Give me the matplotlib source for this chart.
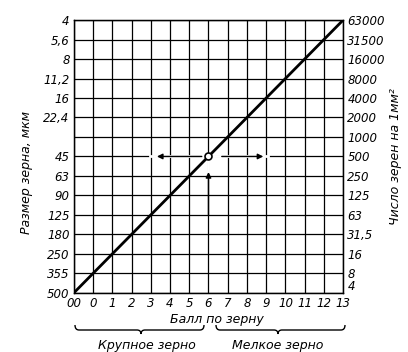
import matplotlib
matplotlib.use("Agg")
import matplotlib.pyplot as plt
from matplotlib.path import Path
from matplotlib.patches import PathPatch

plt.rcParams['font.family'] = ['Liberation Sans Narrow', 'DejaVu Sans']
plt.rcParams['font.style'] = 'italic'

# Data
ball_labels = ["00", "0", "1", "2", "3", "4", "5", "6", "7", "8", "9", "10", "11", "12", "13"]
ball_values = [-1, 0, 1, 2, 3, 4, 5, 6, 7, 8, 9, 10, 11, 12, 13]
size_labels = ["4", "5,6", "8", "11,2", "16", "22,4", "", "45", "63", "90", "125", "180", "250", "355", "500"]
count_labels = ["63000", "31500", "16000", "8000", "4000", "2000", "1000", "500", "250", "125", "63", "31,5", "16", "8", "4"]
# line: ball -> row index (0 = bottom: 500 um / 4 grains, 14 = top)
line_ball = [-1, 13]
line_row = [0, 14]
marker_ball = 6
marker_row = 7

fig = plt.figure(figsize=(4.08, 3.52), dpi=100)
ax = fig.add_axes([0.181, 0.168, 0.660, 0.775])
n = len(size_labels)
rows = list(range(n - 1, -1, -1))  # top label -> row 14

ax.set_xlim(ball_values[0], ball_values[-1])
ax.set_ylim(0, n - 1)
ax.set_xticks(ball_values)
ax.set_xticklabels(ball_labels, fontsize=8.5)
ax.set_yticks(rows)
ax.set_yticklabels(size_labels, fontsize=8.5)
ax.tick_params(length=0, pad=3)
ax.set_axisbelow(True)
ax.grid(True, color='black', linewidth=0.9)
for s in ax.spines.values():
    s.set_linewidth(1.0)

ax2 = ax.twinx()
ax2.set_ylim(0, n - 1)
ax2.set_yticks(rows)
ax2.set_yticklabels(count_labels, fontsize=8.5)
ax2.tick_params(length=0, pad=3)
ax2.get_yticklabels()[-1].set_va('bottom')

# gaps in the grid around the marker
ax.plot([2.96, 9.1], [marker_row, marker_row], color='white', linewidth=2.0, zorder=1.5)
ax.plot([marker_ball, marker_ball], [6.2, marker_row], color='white', linewidth=2.0, zorder=1.5)

ax.plot(line_ball, line_row, color='black', linewidth=2.0, zorder=3)
ax.plot([marker_ball], [marker_row], marker='o', markersize=5, markerfacecolor='white',
        markeredgecolor='black', markeredgewidth=1.2, zorder=5)

arr = dict(arrowstyle='-|>', color='black', lw=1.0, mutation_scale=8, shrinkA=0, shrinkB=0)
ax.annotate('', xy=(3.32, marker_row), xytext=(5.65, marker_row), arrowprops=arr, zorder=4)
ax.annotate('', xy=(8.85, marker_row), xytext=(6.69, marker_row), arrowprops=arr, zorder=4)
ax.annotate('', xy=(marker_ball, 6.2), xytext=(marker_ball, 4.0), arrowprops=arr, zorder=4)

ax.set_ylabel("Размер зерна, мкм", fontsize=9)
ax.yaxis.set_label_coords(-0.152, 0.44)
ax2.set_ylabel("Число зерен на 1мм²", fontsize=9, rotation=90)
ax2.yaxis.set_label_coords(1.17, 0.5)
ax.set_xlabel("Балл по зерну", fontsize=9)
ax.xaxis.set_label_coords(0.53, -0.075)


def brace(x0, x1, xm, y_end, y_bar, y_tip):
    W, H = 408.0, 352.0
    r = 4
    pts = [(x0, y_end), (x0, y_bar), (x0 + r, y_bar), (xm - r, y_bar), (xm, y_bar), (xm, y_tip),
           (xm, y_bar), (xm + r, y_bar), (x1 - r, y_bar), (x1, y_bar), (x1, y_end)]
    codes = [Path.MOVETO, Path.CURVE3, Path.CURVE3, Path.LINETO, Path.CURVE3, Path.CURVE3,
             Path.CURVE3, Path.CURVE3, Path.LINETO, Path.CURVE3, Path.CURVE3]
    pts = [(x / W, 1 - y / H) for x, y in pts]
    fig.add_artist(PathPatch(Path(pts, codes), transform=fig.transFigure, fill=False,
                             edgecolor='black', linewidth=1.0))


brace(75, 204, 141, 325, 330, 334)
brace(216, 345, 278, 325, 330, 334)
fig.text(147 / 408, 1 - 345 / 352, "Крупное зерно", ha='center', va='center', fontsize=9)
fig.text(278 / 408, 1 - 345 / 352, "Мелкое зерно", ha='center', va='center', fontsize=9)

fig.savefig("out.png", dpi=100)
